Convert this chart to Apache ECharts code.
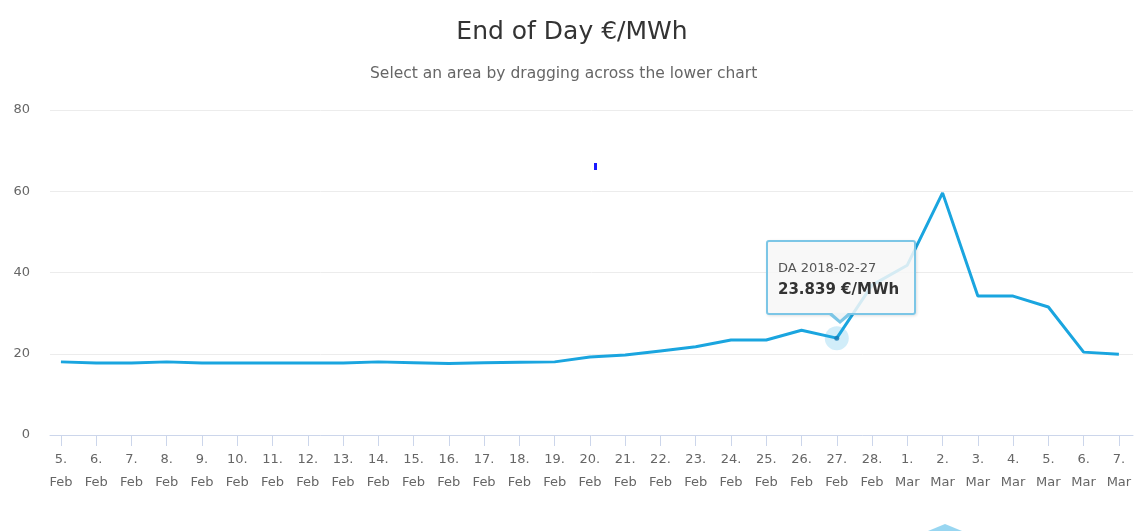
<!DOCTYPE html>
<html lang="en">
<head>
    <meta charset="UTF-8">
    <title>End of Day €/MWh</title>
    <script src="https://cdn.jsdelivr.net/npm/echarts@6.0.0/dist/echarts.min.js"></script>
    <style>
        html, body {
            margin: 0;
            padding: 0;
            background: #fff;
        }
        #eodChart {
            width: 1144px;
            height: 531px;
        }
    </style>
</head>
<body>
    <div id="eodChart"></div>

    <script>
        // Data
        const dates = [
            '2018-02-05', '2018-02-06', '2018-02-07', '2018-02-08', '2018-02-09', '2018-02-10',
            '2018-02-11', '2018-02-12', '2018-02-13', '2018-02-14', '2018-02-15', '2018-02-16',
            '2018-02-17', '2018-02-18', '2018-02-19', '2018-02-20', '2018-02-21', '2018-02-22',
            '2018-02-23', '2018-02-24', '2018-02-25', '2018-02-26', '2018-02-27', '2018-02-28',
            '2018-03-01', '2018-03-02', '2018-03-03', '2018-03-04', '2018-03-05', '2018-03-06',
            '2018-03-07'
        ];
        const prices = [
            18.0, 17.7, 17.7, 18.0, 17.7, 17.7, 17.7, 17.7, 17.7, 18.0, 17.8, 17.6,
            17.8, 17.9, 18.0, 19.2, 19.7, 20.7, 21.7, 23.4, 23.4, 25.8, 23.839, 36.9,
            41.8, 59.6, 34.2, 34.2, 31.5, 20.4, 19.9
        ];
        const yTicks = [0, 20, 40, 60, 80];
        const monthNames = ['Jan', 'Feb', 'Mar', 'Apr', 'May', 'Jun', 'Jul', 'Aug', 'Sep', 'Oct', 'Nov', 'Dec'];
        const hoverIndex = 22; // point under the tooltip (27 Feb)

        const lineColor = '#1aa5df';

        function dayLabel(i) {
            const parts = dates[i].split('-');
            return parseInt(parts[2], 10) + '.\n' + monthNames[parseInt(parts[1], 10) - 1];
        }

        const chart = echarts.init(document.getElementById('eodChart'));
        const indices = dates.map((d, i) => i);
        const lineData = prices.map((v, i) => [i, v]);

        const option = {
            animation: false,
            title: [
                {
                    text: 'End of Day €/MWh',
                    left: 'center',
                    top: 14,
                    textStyle: {
                        fontFamily: 'DejaVu Sans',
                        fontSize: 25,
                        fontWeight: 'normal',
                        color: '#333333',
                        lineHeight: 26
                    }
                },
                {
                    text: 'Select an area by dragging across the lower chart',
                    left: 365,
                    top: 60,
                    textStyle: {
                        fontFamily: 'DejaVu Sans',
                        fontSize: 15.5,
                        fontWeight: 'normal',
                        color: '#666666',
                        lineHeight: 18
                    }
                }
            ],
            grid: {
                left: 50,
                right: 11,
                top: 110,
                bottom: 96
            },
            tooltip: {
                trigger: 'item',
                alwaysShowContent: true,
                transitionDuration: 0,
                padding: 0,
                borderWidth: 0,
                backgroundColor: 'transparent',
                extraCssText: 'box-shadow:none;',
                position: function () {
                    return [766, 240];
                },
                formatter: function (p) {
                    const i = p.data[0];
                    return '<div style="position:relative;width:150px;height:75px;box-sizing:border-box;' +
                        'background:rgba(247,247,247,0.85);border:2px solid #7cc6e6;border-radius:3px;' +
                        'box-shadow:1px 1px 3px rgba(0,0,0,0.12);padding:17px 0 0 10px;font-family:DejaVu Sans;">' +
                        '<div style="font-size:13px;color:#555;line-height:18px;">DA ' + dates[i] + '</div>' +
                        '<div style="font-size:15px;font-weight:bold;color:#333;line-height:24px;">' +
                        prices[i].toFixed(3) + ' €/MWh</div>' +
                        '<div style="position:absolute;left:60px;bottom:-11px;width:0;height:0;' +
                        'border-left:12px solid transparent;border-right:12px solid transparent;' +
                        'border-top:10px solid #7cc6e6;"></div>' +
                        '<div style="position:absolute;left:63px;bottom:-7px;width:0;height:0;' +
                        'border-left:9px solid transparent;border-right:9px solid transparent;' +
                        'border-top:8px solid rgba(247,247,247,0.95);"></div>' +
                        '</div>';
                }
            },
            xAxis: {
                type: 'value',
                min: -0.31,
                max: 30.4,
                splitLine: { show: false },
                axisLine: {
                    show: true,
                    lineStyle: { color: '#ccd6eb', width: 1 }
                },
                axisTick: {
                    show: true,
                    length: 11,
                    customValues: indices,
                    lineStyle: { color: '#ccd6eb' }
                },
                axisLabel: {
                    customValues: indices,
                    margin: 13,
                    fontFamily: 'DejaVu Sans',
                    fontSize: 13,
                    lineHeight: 23,
                    color: '#666666',
                    formatter: function (value) {
                        return dayLabel(Math.round(value));
                    }
                }
            },
            yAxis: {
                type: 'value',
                min: yTicks[0],
                max: yTicks[yTicks.length - 1],
                interval: 20,
                axisLine: { show: false },
                axisTick: { show: false },
                splitLine: {
                    lineStyle: { color: '#ececec', width: 1 }
                },
                axisLabel: {
                    margin: 20,
                    fontFamily: 'DejaVu Sans',
                    fontSize: 13,
                    color: '#666666'
                }
            },
            series: [
                {
                    name: 'DA',
                    type: 'line',
                    data: lineData,
                    showSymbol: false,
                    symbol: 'circle',
                    symbolSize: 6,
                    lineStyle: { color: lineColor, width: 3 },
                    itemStyle: { color: lineColor },
                    emphasis: { disabled: true },
                    tooltip: { show: false },
                    z: 3
                },
                {
                    // halo round the hovered point
                    type: 'scatter',
                    data: [lineData[hoverIndex]],
                    symbolSize: 24,
                    itemStyle: { color: 'rgba(26,165,223,0.25)' },
                    emphasis: { disabled: true },
                    tooltip: { show: false },
                    z: 2
                },
                {
                    // the hovered point itself, carries the tooltip
                    type: 'scatter',
                    data: [lineData[hoverIndex]],
                    symbolSize: 5,
                    itemStyle: { color: '#1679b3' },
                    emphasis: { disabled: true },
                    z: 4
                }
            ],
            graphic: [
                {
                    // stray cursor mark in the screenshot
                    type: 'rect',
                    shape: { x: 594, y: 163, width: 3, height: 7 },
                    style: { fill: '#1a1aff' },
                    silent: true
                },
                {
                    // top of the navigator handle below the chart
                    type: 'polygon',
                    shape: { points: [[928, 531], [945, 524], [962, 531]] },
                    style: { fill: 'rgba(26,165,223,0.45)' },
                    silent: true
                }
            ]
        };

        chart.setOption(option);

        // show the tooltip on 27 Feb
        setTimeout(function () {
            chart.dispatchAction({
                type: 'showTip',
                seriesIndex: 2,
                dataIndex: 0
            });
        }, 0);
    </script>
</body>
</html>
